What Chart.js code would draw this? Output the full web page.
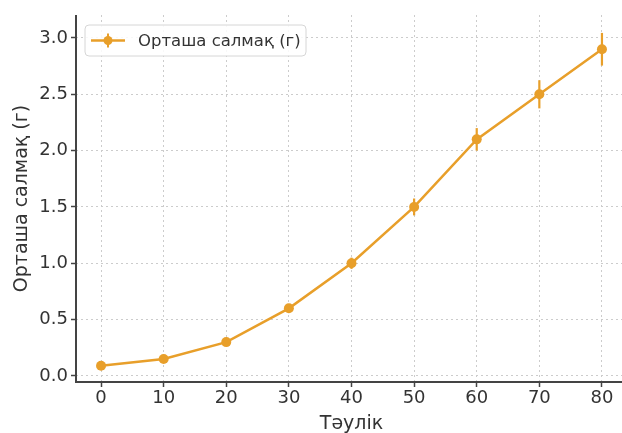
<!DOCTYPE html>
<html><head><meta charset="utf-8">
<script src="https://cdn.jsdelivr.net/npm/chart.js@4/dist/chart.umd.min.js"></script>
<style>html,body{margin:0;padding:0;background:#fff;overflow:hidden;width:622px;height:433px}
#wrap{width:632px;height:433px;position:relative}</style>
</head><body><div id="wrap"><canvas id="c" width="632" height="433"></canvas></div>
<script>
const days = [0, 10, 20, 30, 40, 50, 60, 70, 80];
const meanWeight = [0.09, 0.15, 0.30, 0.60, 1.00, 1.50, 2.10, 2.50, 2.90];
const weightErr = [0.005, 0.008, 0.015, 0.03, 0.05, 0.075, 0.1, 0.125, 0.145];
const xTicks = [0, 10, 20, 30, 40, 50, 60, 70, 80];
const yTicks = [0, 0.5, 1.0, 1.5, 2.0, 2.5, 3.0];
const seriesLabel = 'Орташа салмақ (г)';
const xTitle = 'Тәулік';
const yTitle = 'Орташа салмақ (г)';

const ORANGE = '#e89f2a';
const TXT = '#333333';
const FONT = '"DejaVu Sans", sans-serif';

const extras = {
  id: 'extras',
  beforeDatasetsDraw(chart) {
    const ctx = chart.ctx, xs = chart.scales.x, ys = chart.scales.y;
    ctx.save();
    ctx.strokeStyle = ORANGE; ctx.lineWidth = 2.2;
    days.forEach((d, i) => {
      const x = xs.getPixelForValue(d);
      ctx.beginPath();
      ctx.moveTo(x, ys.getPixelForValue(meanWeight[i] - weightErr[i]));
      ctx.lineTo(x, ys.getPixelForValue(meanWeight[i] + weightErr[i]));
      ctx.stroke();
    });
    ctx.restore();
  },
  afterDraw(chart) {
    const ctx = chart.ctx, a = chart.chartArea;
    ctx.save();
    ctx.strokeStyle = '#444444'; ctx.lineWidth = 2;
    ctx.beginPath();
    ctx.moveTo(a.left, a.top); ctx.lineTo(a.left, a.bottom); ctx.lineTo(a.right + 5, a.bottom);
    ctx.stroke();
    const bx = 85, by = 25, bw = 221, bh = 31, r = 4;
    ctx.fillStyle = 'rgba(255,255,255,0.85)';
    ctx.strokeStyle = '#d6d6d6'; ctx.lineWidth = 1;
    ctx.beginPath();
    ctx.moveTo(bx + r, by); ctx.lineTo(bx + bw - r, by); ctx.arcTo(bx + bw, by, bx + bw, by + r, r);
    ctx.lineTo(bx + bw, by + bh - r); ctx.arcTo(bx + bw, by + bh, bx + bw - r, by + bh, r);
    ctx.lineTo(bx + r, by + bh); ctx.arcTo(bx, by + bh, bx, by + bh - r, r);
    ctx.lineTo(bx, by + r); ctx.arcTo(bx, by, bx + r, by, r);
    ctx.closePath(); ctx.fill(); ctx.stroke();
    const ly = by + bh / 2;
    ctx.strokeStyle = ORANGE; ctx.lineWidth = 2.5;
    ctx.beginPath(); ctx.moveTo(91, ly); ctx.lineTo(125, ly); ctx.stroke();
    ctx.lineWidth = 2;
    ctx.beginPath(); ctx.moveTo(108, ly - 7); ctx.lineTo(108, ly + 7); ctx.stroke();
    ctx.fillStyle = ORANGE;
    ctx.beginPath(); ctx.arc(108, ly, 4.5, 0, Math.PI * 2); ctx.fill();
    ctx.fillStyle = TXT; ctx.font = '16.5px ' + FONT;
    ctx.textBaseline = 'middle'; ctx.textAlign = 'left';
    ctx.fillText(seriesLabel, 138, ly + 1);
    ctx.restore();
  }
};

new Chart(document.getElementById('c'), {
  type: 'line',
  data: {
    datasets: [{
      label: seriesLabel,
      data: days.map((d, i) => ({ x: d, y: meanWeight[i] })),
      borderColor: ORANGE, backgroundColor: ORANGE,
      borderWidth: 2.5, pointRadius: 5, pointHoverRadius: 5,
      pointBackgroundColor: ORANGE, pointBorderWidth: 0, tension: 0
    }]
  },
  options: {
    responsive: false, animation: false,
    layout: { padding: { left: 0, top: 15, right: 0, bottom: 0 } },
    plugins: { legend: { display: false }, tooltip: { enabled: false } },
    scales: {
      x: {
        type: 'linear', min: -4, max: 84,
        afterBuildTicks: s => { s.ticks = xTicks.map(v => ({ value: v })); },
        afterFit: s => { s.height = 51; },
        ticks: { color: TXT, font: { family: FONT, size: 18 }, padding: 1, maxRotation: 0, autoSkip: false },
        grid: { color: '#cccccc', lineWidth: 1, borderDash: [2, 3], tickBorderDash: [], tickColor: '#444444', tickLength: 5, tickWidth: 1.5 },
        border: { display: false, dash: [2, 3] },
        title: { display: true, text: xTitle, color: TXT, font: { family: FONT, size: 19 }, padding: { top: 0, bottom: -2 } }
      },
      y: {
        min: -0.054, max: 3.204,
        afterBuildTicks: s => { s.ticks = yTicks.map(v => ({ value: v })); },
        afterFit: s => { s.width = 76; },
        ticks: { color: TXT, font: { family: FONT, size: 18 }, padding: 3, callback: v => Number(v).toFixed(1) },
        grid: { color: '#cccccc', lineWidth: 1, borderDash: [2, 3], tickBorderDash: [], tickColor: '#444444', tickLength: 5, tickWidth: 1.5 },
        border: { display: false, dash: [2, 3] },
        title: { display: true, text: yTitle, color: TXT, font: { family: FONT, size: 19 }, padding: { top: 10.5, bottom: 0 } }
      }
    }
  },
  plugins: [extras]
});
</script></body></html>
